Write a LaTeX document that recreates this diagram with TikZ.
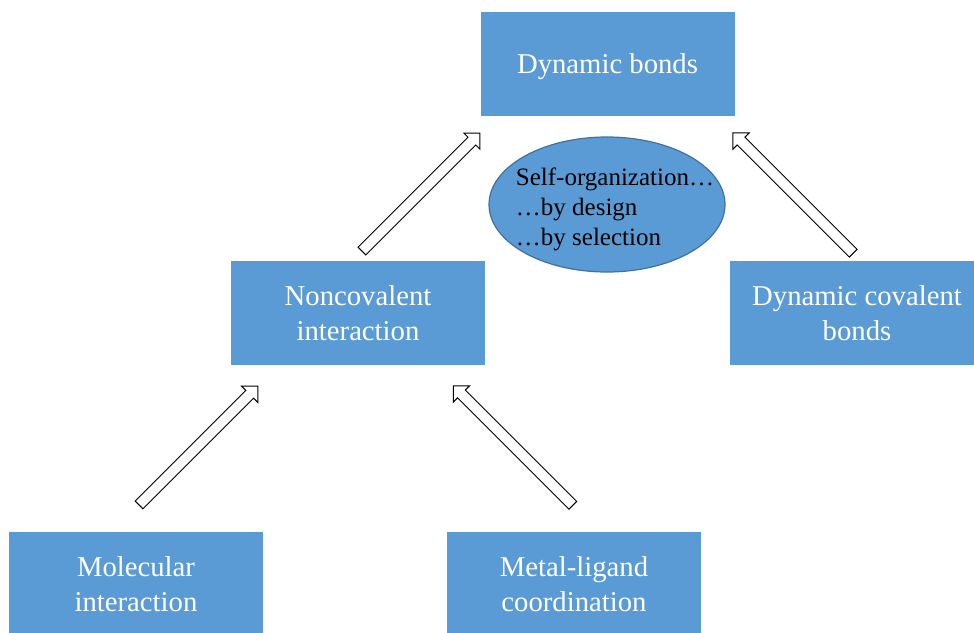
\documentclass[tikz,border=0pt]{standalone}
\usepackage{fontspec}
\setmainfont{Liberation Serif}
\usetikzlibrary{shapes.geometric, shapes.arrows, positioning}
\definecolor{boxblue}{RGB}{91, 155, 213}
\definecolor{edgeblue}{RGB}{65, 113, 156}

\begin{document}
\begin{tikzpicture}[x=1pt, y=-1pt,
        block/.style={fill=boxblue, minimum width=254pt, minimum height=104pt, align=center, text=white, font=\fontsize{28.7}{35}\selectfont},
        hollowarrow/.style={single arrow, draw, fill=white, line width=1pt, minimum width=22pt, single arrow head extend=6pt, inner xsep=0pt, inner ysep=5pt}
    ]
        \useasboundingbox (0,0) rectangle (974,632);

        % Top level
        \node[block] (dyn) at (607.5, 64) {\raisebox{-3pt}[\height][\depth]{Dynamic bonds}};

        % Self-organization
        \node[ellipse, draw=edgeblue, line width=1.2pt, fill=boxblue, minimum width=236pt, minimum height=135pt] (self) at (607, 204.5) {};
        \node[align=left, font=\fontsize{25}{30}\selectfont, inner sep=0pt] (selftext) at ([xshift=8pt, yshift=-5pt]self.center) {Self-organization…\\…by design\\…by selection};

        % Middle level
        \node[block] (noncov) at (358, 313) {Noncovalent\\interaction};
        \node[block] (dyncov) at (857, 313) {Dynamic covalent\\bonds};

        % Bottom level
        \node[block] (mol) at (136, 584) {Molecular\\interaction};
        \node[block] (metal) at (574, 584) {Metal-ligand\\coordination};

        % Arrows
        \node[hollowarrow, minimum height=167pt, rotate=45] (up1) at (419, 194) {};
        \node[hollowarrow, minimum height=170pt, rotate=135] (up2) at (795, 195) {};
        \node[hollowarrow, minimum height=168pt, rotate=45] (up3) at (196.5, 447.5) {};
        \node[hollowarrow, minimum height=169pt, rotate=135] (up4) at (515, 447.5) {};
    \end{tikzpicture}
\end{document}
